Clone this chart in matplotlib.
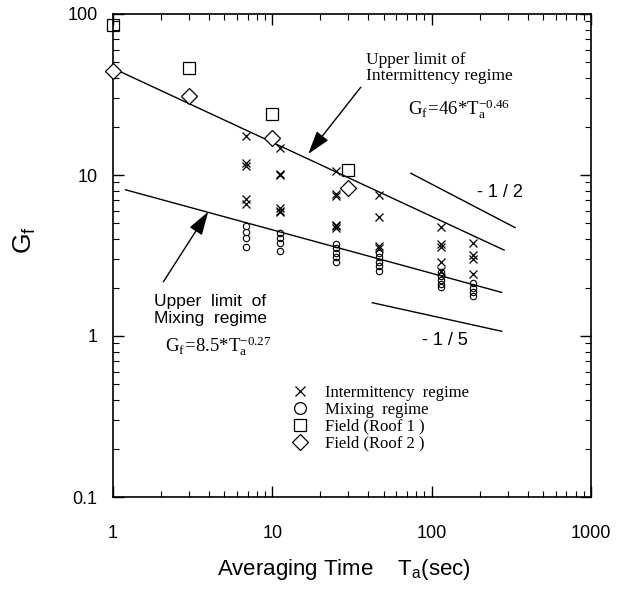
import matplotlib
matplotlib.use("Agg")
import matplotlib.pyplot as plt
from matplotlib.lines import Line2D
import numpy as np

SANS = "Liberation Sans"
SERIF = "Liberation Serif"

# Intermittency regime (crosses)
int_T = [6.8] * 5 + [11.2] * 6 + [25] * 6 + [47] * 4 + [114] * 5 + [181] * 4
int_G = [17.5, 11.8, 11.3, 7.06, 6.6,
         14.7, 10.1, 10.0, 6.2, 6.0, 5.9,
         10.6, 7.6, 7.4, 4.9, 4.8, 4.67,
         7.5, 5.5, 3.62, 3.5,
         4.73, 3.72, 3.59, 2.89, 2.55,
         3.77, 3.19, 2.99, 2.43]

# Mixing regime (circles)
mix_T = [6.8] * 4 + [11.2] * 4 + [25] * 5 + [47] * 5 + [114] * 5 + [181] * 4
mix_G = [4.82, 4.44, 4.04, 3.59,
         4.35, 4.08, 3.77, 3.38,
         3.72, 3.5, 3.27, 3.08, 2.89,
         3.27, 3.08, 2.89, 2.73, 2.54,
         2.51, 2.36, 2.23, 2.10, 2.01,
         2.12, 2.0, 1.88, 1.78]

# Field data
roof1_T = [1, 3, 10, 30]
roof1_G = [85, 46, 24, 10.7]
roof2_T = [1, 3, 10, 30]
roof2_G = [44, 31, 17, 8.3]

# fitted upper limits  Gf = a * Ta^b
int_fit = (46, -0.46)
int_fit_T = [1.12, 285]
mix_fit = (8.5, -0.27)
mix_fit_T = [1.2, 275]

# slope guides
half_T = [74, 334]
half_G = [10.25, 4.71]
fifth_T = [42.4, 275]
fifth_G = [1.61, 1.07]

xtick_vals = [1, 10, 100, 1000]
xtick_labels = ["1", "10", "100", "1000"]
ytick_vals = [0.1, 1, 10, 100]
ytick_labels = ["0.1", "1", "10", "100"]

fig = plt.figure(figsize=(6.17, 5.93), dpi=100)
ax = fig.add_axes([113 / 617, 96 / 593, 478 / 617, 483 / 593])
ax.set_xscale("log")
ax.set_yscale("log")
ax.set_xlim(1, 1000)
ax.set_ylim(0.1, 100)

ax.plot(int_T, int_G, "x", color="k", ms=6, mew=0.9, ls="none")
ax.plot(mix_T, mix_G, "o", color="k", mfc="none", ms=4.6, mew=0.8, ls="none")
ax.plot(roof1_T, roof1_G, "s", color="k", mfc="none", ms=8.5, mew=0.9,
        ls="none", clip_on=False, zorder=5)
ax.plot(roof2_T, roof2_G, "D", color="k", mfc="white", ms=8, mew=0.9,
        ls="none", clip_on=False, zorder=5)

for (a, b), tt in [(int_fit, int_fit_T), (mix_fit, mix_fit_T)]:
    tt = np.array(tt)
    ax.plot(tt, a * tt ** b, color="k", lw=1.0)

ax.plot(half_T, half_G, color="k", lw=1.0)
ax.plot(fifth_T, fifth_G, color="k", lw=1.0)
ax.text(269, 7.83, "- 1 / 2", family=SANS, fontsize=13, ha="center", va="center")
ax.text(121, 0.944, "- 1 / 5", family=SANS, fontsize=13, ha="center", va="center")

# annotations
ax.text(38.7, 46.5, "Upper limit of\nIntermittency regime", family=SERIF,
        fontsize=12.5, ha="left", va="center", linespacing=1.0)
ax.text(71, 23.9, r"$\mathregular{G_f\!=\!46{*}T_a^{-0.46}}$", family=SERIF,
        fontsize=13.5, ha="left", va="baseline")
ax.annotate("", xy=(16.8, 13.5), xytext=(35.9, 35.1),
            arrowprops=dict(arrowstyle="-|>,head_length=0.8,head_width=0.25",
                            color="k", lw=1.0, mutation_scale=18,
                            shrinkA=0, shrinkB=0))

ax.text(1.816, 1.45, "Upper  limit  of\nMixing  regime", family=SANS,
        fontsize=12.5, ha="left", va="center", linespacing=1.1)
ax.text(2.12, 0.80, r"$\mathregular{G_f\!=\!8.5{*}T_a^{-0.27}}$", family=SERIF,
        fontsize=13.5, ha="left", va="baseline")
ax.annotate("", xy=(3.96, 5.91), xytext=(2.07, 2.17),
            arrowprops=dict(arrowstyle="-|>,head_length=0.8,head_width=0.25",
                            color="k", lw=1.0, mutation_scale=18,
                            shrinkA=0, shrinkB=0))

# legend
handles = [
    Line2D([], [], marker="x", color="k", ls="none", ms=7, mew=0.9),
    Line2D([], [], marker="o", color="k", mfc="none", ls="none", ms=8.5, mew=0.9),
    Line2D([], [], marker="s", color="k", mfc="none", ls="none", ms=9, mew=0.9),
    Line2D([], [], marker="D", color="k", mfc="none", ls="none", ms=8, mew=0.9),
]
labels = ["Intermittency  regime", "Mixing  regime", "Field (Roof 1 )", "Field (Roof 2 )"]
ax.legend(handles, labels, loc="upper left", bbox_to_anchor=(0.374, 0.232),
          frameon=False, borderpad=0, borderaxespad=0, handlelength=1.0,
          handletextpad=1.0, labelspacing=0.05, prop={"family": SERIF, "size": 12})

# ticks
ax.tick_params(which="both", direction="in", top=True, right=True)
ax.tick_params(which="major", length=8, width=1.0)
ax.tick_params(which="minor", length=4.5, width=0.8)
ax.tick_params(axis="x", which="major", pad=20)
ax.tick_params(axis="y", which="major", pad=11)
ax.set_xticks(xtick_vals)
ax.set_xticklabels(xtick_labels, family=SANS, fontsize=13)
ax.set_yticks(ytick_vals)
ax.set_yticklabels(ytick_labels, family=SANS, fontsize=13)
for s in ax.spines.values():
    s.set_linewidth(1.2)

ax.set_xlabel(r"Averaging Time    $\mathregular{T_a}$(sec)", family=SANS,
              fontsize=16, va="baseline")
ax.xaxis.set_label_coords((343.5 - 113) / 478, (497 - 575) / 483)
ax.set_ylabel(r"$\mathregular{G_f}$", family=SANS, fontsize=19, va="center")
ax.yaxis.set_label_coords(-0.184, 0.532)

fig.savefig("out.png", dpi=100)
